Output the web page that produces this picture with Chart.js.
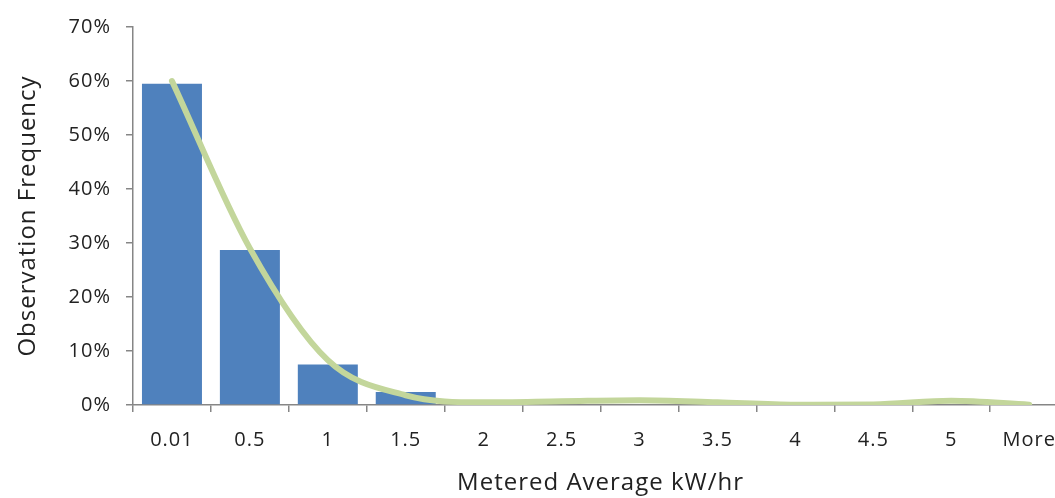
<!DOCTYPE html>
<html>
<head>
<meta charset="utf-8">
<script src="https://cdn.jsdelivr.net/npm/chart.js@4.4.0/dist/chart.umd.min.js"></script>
<style>
  html, body { margin: 0; padding: 0; background: #fff; overflow: hidden; }
  #wrap { width: 1055px; height: 498px; overflow: hidden; }
</style>
</head>
<body>
<div id="wrap"><canvas id="histChart" width="1072" height="498"></canvas></div>
<script>
const categories = ['0.01', '0.5', '1', '1.5', '2', '2.5', '3', '3.5', '4', '4.5', '5', 'More'];
const frequency = [59.5, 28.7, 7.5, 2.4, 0.8, 0, 0, 0, 0, 0, 0, 0];
const trend = [60, 29, 8.3, 1.8, 0.5, 0.7, 0.9, 0.5, 0.05, 0.1, 0.8, 0.05];

const axisColor = '#868686';
const textColor = '#222222';
const fontFamily = '"Open Sans", "Liberation Sans", sans-serif';

// the reference text is set a little wide, so space the letters out slightly
const wideText = {
    id: 'wideText',
    beforeUpdate(chart) { chart.ctx.letterSpacing = '1px'; },
    beforeDraw(chart) { chart.ctx.letterSpacing = '1px'; }
};

const ctx = document.getElementById('histChart').getContext('2d');

new Chart(ctx, {
    data: {
        labels: categories,
        datasets: [{
            type: 'line',
            label: 'Trend',
            data: trend,
            borderColor: '#c3d69b',
            borderWidth: 6,
            borderCapStyle: 'round',
            cubicInterpolationMode: 'monotone',
            pointRadius: 0,
            fill: false,
            order: 0,
            clip: { left: 5, right: 5, top: 5, bottom: 0 }
        }, {
            type: 'bar',
            label: 'Frequency',
            data: frequency,
            backgroundColor: '#4f81bd',
            borderWidth: 0,
            barPercentage: 0.77,
            categoryPercentage: 1,
            order: 1
        }]
    },
    options: {
        responsive: false,
        animation: false,
        layout: { padding: { top: 25, right: 3, left: 0, bottom: 0 } },
        plugins: {
            legend: { display: false },
            tooltip: { enabled: false }
        },
        scales: {
            x: {
                offset: true,
                afterFit: s => { s.height = 93; },
                grid: {
                    display: true,
                    offset: true,
                    drawOnChartArea: false,
                    drawTicks: true,
                    tickLength: 7,
                    color: axisColor,
                    lineWidth: 1.5
                },
                border: { color: axisColor, width: 1.5 },
                ticks: {
                    color: textColor,
                    padding: 16,
                    maxRotation: 0,
                    autoSkip: false,
                    font: { family: fontFamily, size: 20 }
                },
                title: {
                    display: true,
                    text: 'Metered Average kW/hr',
                    color: textColor,
                    padding: { top: 0, bottom: 0 },
                    font: { family: fontFamily, size: 24 }
                }
            },
            y: {
                min: 0,
                max: 70,
                afterFit: s => { s.width = 133; },
                grid: {
                    display: true,
                    drawOnChartArea: false,
                    drawTicks: true,
                    tickLength: 7,
                    color: axisColor,
                    lineWidth: 1.5
                },
                border: { color: axisColor, width: 1.5 },
                ticks: {
                    stepSize: 10,
                    color: textColor,
                    padding: 15,
                    font: { family: fontFamily, size: 20 },
                    callback: v => v + '%'
                },
                title: {
                    display: true,
                    text: 'Observation Frequency',
                    color: textColor,
                    padding: { top: 14, bottom: 0 },
                    font: { family: fontFamily, size: 24 }
                }
            }
        }
    },
    plugins: [wideText]
});
</script>
</body>
</html>
